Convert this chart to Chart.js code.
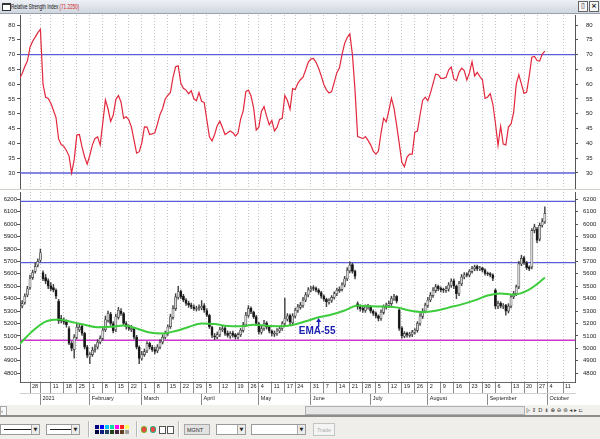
<!DOCTYPE html>
<html>
<head>
<meta charset="utf-8">
<title>Relative Strength Index</title>
<script src="https://cdn.jsdelivr.net/npm/chart.js@4.4.1/dist/chart.umd.min.js"></script>
<style>
  body { margin:0; width:600px; height:439px; overflow:hidden; position:relative;
         background:#d4d0c8; font-family:"Liberation Sans Narrow","Liberation Sans",Arial,sans-serif; }
  .abs { position:absolute; }
  #title { left:0; top:0; width:600px; height:13px; background:linear-gradient(#eef1f6,#d0d6df);
           border-bottom:1px solid #97a0ac; font-size:6.5px; line-height:13px; }
  #title .ico { left:2px; top:3px; width:7px; height:5px; border:1px solid #333; border-top-width:2px; background:#fff; }
  #title .txt { left:11px; top:0; color:#111; transform:scaleX(0.7); transform-origin:0 0; white-space:nowrap; }
  #title .val { color:#d42020; }
  #title .btn { top:1px; width:8px; height:9px; border:1px solid #666; background:#f6f6f6;
                font:bold 7px "DejaVu Sans",sans-serif; line-height:9px; text-align:center; color:#111; }
  canvas { position:absolute; left:0; background:#fff; }
  #rsi { top:14px; }
  #price { top:190px; }
  #scroll { left:0; top:405px; width:600px; height:10px; background:#f2f1ee; }
  #scroll .sb { top:1px; left:0; width:5px; height:8px; border:1px solid #aaa; background:#f8f8f8; font-size:6px; line-height:8px; color:#555; }
  #thumb { left:305px; top:1px; width:218px; height:7px; background:#e6e6e6; border:1px solid #b0b0b0; }
  #nav { left:526px; top:0; height:10px; font:5.5px "DejaVu Sans",sans-serif; line-height:10px; color:#333; white-space:nowrap; }
  #sep { left:0; top:415px; width:600px; height:2px; background:#8c8c8c; }
  #tools { left:0; top:417px; width:600px; height:22px; background:#efeeea; }
  .box { top:7px; height:11px; background:#fff; border:1px solid #9a9a9a; box-sizing:border-box; }
  .box .ln { left:3px; top:4px; height:1px; background:#222; }
  .box .dd { right:0; top:0; width:7px; height:9px; background:#ececec; border-left:1px solid #aaa;
             font:5px "DejaVu Sans",sans-serif; line-height:9px; text-align:center; color:#222; }
  .vs { top:4px; width:1px; height:16px; background:#b8b8b8; border-right:1px solid #fff; }
  .sw { width:4px; height:4px; }
  .ic { top:9px; width:6px; height:7px; border-radius:3px; }
  .sq { top:9px; width:5px; height:6px; border:1px solid #555; background:#fff; }
  #mgnt { left:184px; top:7px; width:26px; height:11px; background:#e2e2e2; border:1px solid #a8a8a8; box-sizing:border-box;
          font-size:5.5px; line-height:10px; padding-left:2px; color:#333; }
  #trade { left:313px; top:6px; width:22px; height:13px; border:1px solid #c4c4c4; background:#f4f4f4; box-sizing:border-box;
           font-size:5.5px; line-height:12px; text-align:center; color:#b0b0b0; }
</style>
</head>
<body>
<div id="title" class="abs">
  <div class="ico abs"></div>
  <div class="txt abs">Relative Strength Index <span class="val">(71.2250)</span></div>
  <div class="btn abs" style="left:578px">▯</div>
  <div class="btn abs" style="left:589px">×</div>
</div>
<canvas id="rsi" width="600" height="175"></canvas>
<canvas id="price" width="600" height="215"></canvas>
<div id="scroll" class="abs">
  <div class="sb abs">‹</div>
  <div id="thumb" class="abs"></div>
  <div id="nav" class="abs">|› ⇕ D ⇟ ⊕ ⊖ ⊜ ◂ ▸ ⊏</div>
</div>
<div id="sep" class="abs"></div>
<div id="tools" class="abs">
  <div class="box abs" style="left:0;width:40px"><div class="ln abs" style="width:28px"></div><div class="dd abs">▼</div></div>
  <div class="box abs" style="left:46px;width:34px"><div class="ln abs" style="width:22px"></div><div class="dd abs">▼</div></div>
  <div class="vs abs" style="left:88px"></div>
  <div id="palette" class="abs" style="left:95px;top:8px;width:36px;height:10px;"></div>
  <div class="vs abs" style="left:136px"></div>
  <div class="ic abs" style="left:141px;background:radial-gradient(#e44 40%,#7a2 60%)"></div>
  <div class="ic abs" style="left:150px;background:radial-gradient(#e44 40%,#2a7 60%)"></div>
  <div class="sq abs" style="left:159px"></div>
  <div class="sq abs" style="left:167px"></div>
  <div class="vs abs" style="left:178px"></div>
  <div id="mgnt" class="abs">MGNT</div>
  <div class="box abs" style="left:216px;width:30px"><div class="dd abs">▼</div></div>
  <div class="box abs" style="left:251px;width:55px"><div class="dd abs">▼</div></div>
  <div id="trade" class="abs">Trade</div>
</div>

<script>
// RSI (14) – one value per trading day
const rsiVals = [
  62.0,63.6,66.0,67.8,72.5,74.5,75.9,77.4,78.5,60.0,
  55.6,55.2,53.6,51.2,48.7,41.5,39.6,39.0,37.6,35.8,
  30.0,34.5,42.8,43.0,38.8,35.4,33.0,36.0,39.5,41.7,
  42.2,39.5,47.0,54.7,51.7,47.4,49.5,54.8,56.2,54.0,
  48.5,49.0,48.0,45.5,41.1,36.7,37.2,40.2,45.6,45.5,
  43.0,43.2,43.6,46.5,49.8,51.8,55.0,56.2,57.2,62.3,
  65.9,66.2,60.3,58.6,58.0,56.8,57.8,55.1,54.4,57.2,
  54.2,53.8,48.0,42.2,40.8,43.0,46.0,47.5,45.4,43.0,
  43.6,44.2,43.6,42.5,43.5,48.2,51.0,57.5,58.0,56.0,
  52.0,44.5,45.5,50.8,52.4,49.2,46.3,47.8,44.2,45.4,
  48.1,48.5,56.2,54.5,51.5,58.5,58.2,60.3,61.5,62.4,
  64.8,67.4,68.5,68.7,67.4,65.4,62.8,59.9,58.1,57.0,
  57.5,60.6,63.9,65.5,70.0,73.8,75.8,77.0,70.0,58.0,
  42.3,42.0,41.6,42.3,41.0,39.5,37.4,36.4,37.4,43.5,
  48.5,47.3,51.0,55.3,51.8,46.2,40.0,33.6,32.1,35.4,
  36.4,36.4,43.8,44.2,49.6,54.5,55.6,54.4,57.0,60.2,
  63.4,63.2,62.0,62.0,62.3,64.8,65.8,61.8,61.2,64.0,
  65.4,64.6,61.4,63.8,67.6,62.8,64.0,62.6,61.5,55.2,
  55.7,56.8,53.3,46.8,39.3,45.8,39.8,39.5,45.5,46.6,
  50.4,60.0,63.2,60.0,56.9,57.3,62.8,69.1,69.4,68.0,
  67.8,70.2,71.2
];
const rsiLevels = [70, 30];
const rsiTicks = [30, 35, 40, 45, 50, 55, 60, 65, 70, 75, 80];

// daily bars
const opens = [
  5320,5340,5370,5430,5490,5570,5620,5670,5710,5610,
  5570,5545,5505,5490,5470,5380,5240,5225,5215,5160,
  5040,4990,5090,5150,5180,5120,5010,4930,4950,4990,
  5010,5050,5080,5150,5225,5275,5200,5150,5250,5300,
  5280,5200,5175,5150,5160,5090,5010,4920,4950,4980,
  5040,5010,4990,4980,5010,5050,5090,5120,5175,5250,
  5320,5410,5460,5420,5390,5365,5350,5335,5315,5318,
  5325,5345,5305,5265,5170,5100,5090,5110,5150,5165,
  5120,5100,5125,5110,5090,5110,5145,5190,5265,5325,
  5290,5255,5200,5130,5160,5205,5175,5140,5115,5120,
  5140,5160,5200,5235,5265,5205,5260,5305,5330,5345,
  5390,5430,5470,5490,5485,5470,5450,5420,5395,5370,
  5385,5410,5440,5465,5475,5510,5560,5625,5675,5620,
  5360,5335,5322,5305,5340,5336,5300,5285,5262,5240,
  5290,5330,5345,5360,5400,5418,5310,5165,5098,5122,
  5105,5112,5130,5145,5200,5258,5300,5345,5390,5425,
  5465,5500,5485,5475,5465,5478,5508,5545,5500,5440,
  5520,5575,5600,5590,5620,5640,5660,5640,5648,5632,
  5605,5602,5592,5470,5340,5365,5338,5348,5300,5340,
  5415,5440,5495,5680,5730,5690,5655,5656,5950,5960,
  5880,5992,6020
];
const highs = [
  5362,5385,5440,5500,5590,5630,5690,5720,5800,5625,
  5595,5560,5530,5515,5480,5395,5265,5245,5230,5175,
  5055,5110,5195,5195,5190,5130,5025,4965,5010,5030,
  5070,5100,5165,5260,5300,5290,5215,5275,5330,5320,
  5290,5215,5190,5185,5170,5105,5020,4975,4995,5055,
  5050,5025,5010,5030,5070,5110,5140,5190,5275,5345,
  5440,5500,5470,5435,5400,5380,5365,5350,5340,5350,
  5385,5360,5320,5275,5180,5120,5130,5170,5180,5175,
  5140,5135,5140,5120,5125,5160,5210,5290,5345,5335,
  5300,5265,5210,5180,5225,5215,5185,5150,5140,5160,
  5180,5215,5404,5280,5275,5280,5325,5355,5370,5410,
  5450,5490,5500,5505,5495,5480,5460,5430,5405,5400,
  5425,5455,5485,5495,5530,5580,5650,5697,5685,5630,
  5375,5350,5340,5350,5355,5345,5310,5295,5270,5310,
  5350,5365,5380,5420,5435,5425,5320,5175,5135,5130,
  5130,5145,5160,5215,5280,5320,5365,5410,5450,5490,
  5515,5510,5495,5485,5500,5530,5560,5560,5510,5540,
  5595,5610,5610,5635,5660,5670,5670,5660,5655,5640,
  5615,5610,5600,5480,5380,5375,5360,5355,5360,5430,
  5460,5510,5700,5750,5740,5700,5665,5965,6000,5975,
  6010,6045,6140
];
const lows = [
  5300,5325,5355,5415,5475,5555,5605,5655,5695,5545,
  5520,5480,5465,5455,5400,5200,5205,5195,5170,5030,
  4980,4920,5075,5135,5105,4995,4925,4877,4935,4970,
  4995,5035,5065,5135,5210,5185,5125,5135,5235,5265,
  5185,5155,5145,5135,5075,4995,4877,4905,4935,4965,
  4995,4975,4955,4965,4995,5035,5075,5105,5160,5235,
  5305,5395,5400,5375,5345,5330,5320,5305,5300,5305,
  5310,5290,5255,5160,5085,5070,5075,5095,5135,5105,
  5090,5080,5090,5075,5075,5095,5130,5175,5250,5280,
  5240,5185,5115,5115,5145,5155,5125,5100,5095,5105,
  5125,5145,5180,5220,5190,5190,5245,5290,5315,5330,
  5375,5415,5455,5465,5455,5435,5405,5380,5335,5355,
  5370,5395,5425,5450,5460,5495,5545,5610,5605,5560,
  5315,5300,5290,5290,5315,5285,5265,5245,5220,5225,
  5275,5315,5330,5345,5385,5365,5145,5081,5085,5090,
  5090,5095,5115,5130,5185,5240,5285,5330,5375,5410,
  5450,5465,5455,5450,5450,5460,5490,5480,5400,5425,
  5505,5560,5575,5575,5605,5625,5625,5625,5615,5590,
  5585,5575,5545,5320,5320,5325,5320,5267,5285,5325,
  5400,5425,5480,5665,5675,5635,5625,5640,5930,5850,
  5865,5975,6005
];
const closes = [
  5340,5360,5420,5480,5560,5610,5660,5700,5770,5560,
  5540,5500,5480,5470,5420,5220,5220,5210,5190,5040,
  5000,5090,5170,5170,5120,5010,4944,4950,4985,5000,
  5050,5080,5145,5230,5280,5200,5140,5254,5307,5280,
  5200,5172,5160,5160,5090,5010,4918,4950,4973,5038,
  5011,4990,4975,5010,5050,5090,5120,5172,5254,5320,
  5414,5455,5414,5388,5361,5347,5334,5320,5320,5330,
  5340,5307,5267,5172,5105,5092,5110,5150,5160,5120,
  5105,5120,5105,5092,5110,5145,5190,5267,5320,5294,
  5254,5200,5133,5160,5200,5170,5140,5120,5120,5140,
  5160,5200,5240,5260,5210,5260,5307,5334,5348,5388,
  5430,5470,5482,5482,5468,5450,5420,5395,5374,5385,
  5410,5440,5468,5475,5510,5560,5630,5670,5620,5580,
  5334,5320,5307,5334,5334,5300,5281,5260,5240,5290,
  5334,5348,5360,5401,5414,5380,5160,5100,5120,5107,
  5115,5130,5145,5200,5260,5300,5348,5388,5428,5468,
  5495,5480,5470,5468,5480,5510,5540,5500,5441,5520,
  5575,5590,5590,5620,5643,5656,5640,5645,5630,5603,
  5600,5590,5563,5340,5361,5340,5345,5300,5340,5414,
  5441,5495,5680,5724,5690,5650,5640,5950,5978,5870,
  5990,6019,6087
];

// EMA-55 (bar index, value)
const emaIdx = [1,6,11,16,21,26,31,36,41,46,51,56,61,66,71,76,81,86,91,96,101,106,111,116,121,126,131,136,141,146,151,156,161,166,171,176,181,186,191,196,201,203];
const emaVals = [
  5035,5140,5215,5232,5212,5190,5170,5174,5184,5160,
  5128,5120,5140,5172,5200,5196,5180,5178,5190,5182,
  5178,5188,5218,5250,5272,5305,5345,5338,5336,5330,
  5304,5292,5302,5328,5354,5386,5425,5442,5432,5462,
  5534,5571
];
const priceLevels = [6183, 5690];
const supportLevel = 5065;
const priceTicks = [4800,4900,5000,5100,5200,5300,5400,5500,5600,5700,5800,5900,6000,6100,6200];
const emaNoteIdx = 116, emaNoteVal = 5245, emaNoteText = 'EMA-55';

// date axis (bar index of each week / month start)
const weekIdx = [5,9,13,18,23,28,33,38,43,48,53,58,63,68,73,78,84,89,93,98,103,107,113,118,123,128,133,138,143,148,153,158,163,168,174,179,184,190,195,200,204,210];
const weekLbl = ['28','','11','18','25','1','8','15','22','1','8','15','22','29','5','12','19','26','4','11','17','24','31','7','14','21','28','5','12','19','26','2','9','16','23','30','6','13','20','27','4','11'];
const monthIdx = [9,28,48,71,93,113,136,158,181,204];
const monthLbl = ['2021','February','March','April','May','June','July','August','September','October'];

const X_MIN = 1.15, X_MAX = 214.6;
const FONT = '"Liberation Sans Narrow","Liberation Sans",Arial,sans-serif';

Chart.defaults.font.family = FONT;
Chart.defaults.font.size = 6;
Chart.defaults.color = '#222';
Chart.defaults.animation = false;

// palette swatches in the toolbar
const swatches = ['#000080','#0000ff','#00c0ff','#00e0a0','#ff00ff','#ff2020','#ffff60',
                  '#000040','#102080','#204060','#204020','#402040','#604020','#a0a0a0'];
const pal = document.getElementById('palette');
swatches.forEach((c, k) => {
  const d = document.createElement('div');
  d.className = 'sw abs';
  d.style.cssText = `left:${(k % 7) * 5}px;top:${Math.floor(k / 7) * 5}px;background:${c}`;
  pal.appendChild(d);
});

function noPad(s) {
  s.paddingTop = s.paddingBottom = s.paddingLeft = s.paddingRight = 0;
}

function weekGrid(showLabels) {
  return {
    type: 'linear', min: X_MIN, max: X_MAX, offset: false,
    afterBuildTicks: s => { s.ticks = weekIdx.map(v => ({ value: v })); },
    afterFit: s => { s.height = showLabels ? 11 : 0; noPad(s); },
    ticks: {
      display: showLabels, autoSkip: false, maxRotation: 0, minRotation: 0,
      align: 'start', padding: -10, labelOffset: 2, font: { size: 5.5 },
      callback: (v, i) => weekLbl[i],
    },
    grid: { offset: false, color: '#c6c6c6', tickColor: '#8a8a8a', tickLength: 11, drawTicks: showLabels },
    border: { display: showLabels, color: '#666', dash: [1, 2] },
  };
}

function yAxis(pos, min, max, ticks, width, pad) {
  return {
    position: pos, min, max,
    afterBuildTicks: s => { s.ticks = ticks.map(v => ({ value: v })); },
    afterFit: s => { s.width = width; noPad(s); },
    ticks: { padding: pad, crossAlign: pos === 'left' ? 'near' : 'center', callback: v => String(v) },
    grid: { drawOnChartArea: false, tickLength: 3, color: '#555' },
    border: { color: '#555' },
  };
}

function hline(v, color, w) {
  return { type: 'line', data: [{ x: X_MIN, y: v }, { x: X_MAX, y: v }], borderColor: color,
           borderWidth: w, pointRadius: 0, xAxisID: 'x', yAxisID: 'yl' };
}

// RSI panel
new Chart(document.getElementById('rsi'), {
  type: 'line',
  data: {
    datasets: [
      { data: rsiVals.map((v, k) => ({ x: k + 1, y: v })), borderColor: '#e2283c', borderWidth: 1.2,
        pointRadius: 0, tension: 0, xAxisID: 'x', yAxisID: 'yl' },
      ...rsiLevels.map(v => hline(v, '#5c5cd8', 1.3)),
    ],
  },
  options: {
    responsive: false, events: [],
    layout: { padding: { top: 1, bottom: 1 }, autoPadding: false },
    plugins: { legend: { display: false }, tooltip: { enabled: false } },
    scales: {
      x: weekGrid(false),
      yl: yAxis('left', 24.93, 83.38, rsiTicks, 20, 2),
      yr: yAxis('right', 24.93, 83.38, rsiTicks, 25, 8),
    },
  },
});

const emaNote = {
  id: 'emaNote',
  afterDatasetsDraw(chart) {
    const { ctx, scales: { x, yl } } = chart;
    const px = x.getPixelForValue(emaNoteIdx), py = yl.getPixelForValue(emaNoteVal);
    ctx.save();
    ctx.strokeStyle = ctx.fillStyle = '#1e22b0';
    ctx.lineWidth = 1.4;
    ctx.beginPath(); ctx.moveTo(px, py + 3); ctx.lineTo(px, py + 9); ctx.stroke();
    ctx.beginPath(); ctx.moveTo(px, py); ctx.lineTo(px - 2.5, py + 4); ctx.lineTo(px + 2.5, py + 4); ctx.fill();
    ctx.font = 'bold 10px ' + FONT;
    ctx.textAlign = 'center'; ctx.textBaseline = 'top';
    ctx.fillText(emaNoteText, px - 1.5, py + 8);
    ctx.restore();
  },
};

// price panel
const up = closes.map((c, k) => c >= opens[k]);
new Chart(document.getElementById('price'), {
  type: 'bar',
  data: {
    datasets: [
      { type: 'line', data: emaIdx.map((v, k) => ({ x: v, y: emaVals[k] })), borderColor: '#3ccc3c',
        borderWidth: 2, pointRadius: 0, cubicInterpolationMode: 'monotone', xAxisID: 'x', yAxisID: 'yl' },
      { data: opens.map((o, k) => ({ x: k + 1, y: [Math.min(o, closes[k]), Math.max(o, closes[k])] })),
        backgroundColor: up.map(u => u ? '#d6d6d6' : '#141414'), borderColor: '#333', borderWidth: 0.6,
        barThickness: 2.2, grouped: false, borderSkipped: false, xAxisID: 'x', yAxisID: 'yl' },
      { data: highs.map((h, k) => ({ x: k + 1, y: [lows[k], h] })), backgroundColor: '#444',
        barThickness: 0.8, grouped: false, xAxisID: 'x', yAxisID: 'yl' },
      ...priceLevels.map(v => hline(v, '#5c5cd8', 1.3)),
      hline(supportLevel, '#cc36cc', 1.6),
    ],
  },
  plugins: [emaNote],
  options: {
    responsive: false, events: [],
    layout: { padding: { top: 2, bottom: 0 }, autoPadding: false },
    plugins: { legend: { display: false }, tooltip: { enabled: false } },
    scales: {
      x: weekGrid(true),
      x2: {
        type: 'linear', position: 'bottom', min: X_MIN, max: X_MAX, offset: false,
        afterBuildTicks: s => { s.ticks = monthIdx.map(v => ({ value: v })); },
        afterFit: s => { s.height = 12; noPad(s); },
        ticks: { autoSkip: false, maxRotation: 0, minRotation: 0, align: 'start', padding: -10,
                 labelOffset: 2, font: { size: 5.5 }, callback: (v, i) => monthLbl[i] },
        grid: { drawOnChartArea: false, offset: false, color: '#8a8a8a', tickLength: 12 },
        border: { display: true, color: '#d0d0d0' },
      },
      yl: yAxis('left', 4729, 6259, priceTicks, 20, 0),
      yr: yAxis('right', 4729, 6259, priceTicks, 25, 5),
    },
  },
});
</script>
</body>
</html>
